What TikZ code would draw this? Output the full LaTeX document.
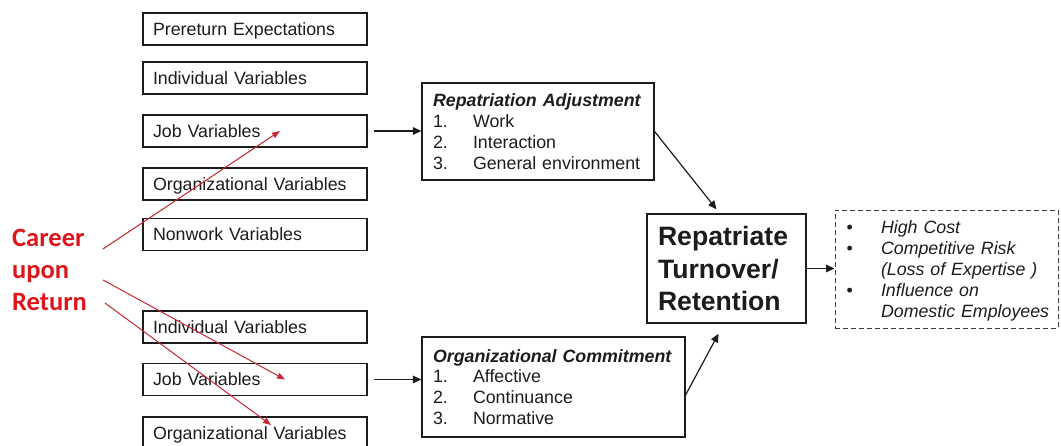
\documentclass[tikz,border=0pt]{standalone}
\usepackage{fontspec}
\setmainfont{Liberation Sans}
\newfontfamily\careerfont{Carlito}
\usetikzlibrary{arrows.meta}
\definecolor{careerred}{RGB}{222,22,28}
\definecolor{linkred}{RGB}{196,40,50}
\definecolor{ink}{RGB}{28,28,28}

\begin{document}
\begin{tikzpicture}[x=1pt,y=-1pt,
  every node/.style={text=ink},
  varbox/.style={draw=ink, line width=1.2pt, minimum width=224pt, minimum height=32pt,
    text width=204pt, align=left, inner xsep=10pt, inner ysep=0pt,
    text height=12.7pt, text depth=0pt, font=\fontsize{17.8}{21}\selectfont},
  listbox/.style={draw=ink, line width=1.2pt, align=left, inner xsep=11pt, inner ysep=0pt,
    font=\fontsize{17.8}{20.8}\selectfont},
  bigbox/.style={draw=ink, line width=1.4pt, align=left, inner xsep=11pt, inner ysep=0pt,
    minimum width=159pt, minimum height=109pt, text width=137pt,
    font=\bfseries\fontsize{26.6}{32.5}\selectfont},
  effectbox/.style={draw=ink!85, line width=0.9pt, dash pattern=on 5pt off 3pt, align=left,
    inner xsep=11.5pt, inner ysep=0pt, minimum width=223pt, minimum height=118pt,
    text width=200pt, font=\itshape\fontsize{17.8}{21.2}\selectfont},
  flow/.style={draw=ink, line width=1.2pt, -{Triangle[length=8.5pt,width=7.5pt]}},
  redlink/.style={draw=linkred, line width=1pt, -{Triangle[length=8pt,width=6pt]}}
]
\useasboundingbox (0,0) rectangle (1061,446);

% antecedents of repatriation adjustment
\node[varbox] (pre)  at (255,29)    {Prereturn Expectations};
\node[varbox] (ind1) at (255,78)    {Individual Variables};
\node[varbox] (job1) at (255,131)   {Job Variables};
\node[varbox] (org1) at (255,184)   {Organizational Variables};
\node[varbox] (non)  at (255,234.5) {Nonwork Variables};

% antecedents of organizational commitment
\node[varbox] (ind2) at (255,327)   {Individual Variables};
\node[varbox] (job2) at (255,379.5) {Job Variables};
\node[varbox] (org2) at (255,433)   {Organizational Variables};

% mediating constructs
\node[listbox, minimum width=232pt, minimum height=97pt, text width=210pt] (ra) at (538,131.5)
  {\textbf{\textit{Repatriation Adjustment}}\\
   \makebox[40pt][l]{1.}Work\\
   \makebox[40pt][l]{2.}Interaction\\
   \makebox[40pt][l]{3.}General environment};
\node[listbox, minimum width=263pt, minimum height=100pt, text width=241pt] (oc) at (553.5,387)
  {\mbox{\textbf{\textit{Organizational Commitment}}}\\
   \makebox[40pt][l]{1.}Affective\\
   \makebox[40pt][l]{2.}Continuance\\
   \makebox[40pt][l]{3.}Normative};

% outcome and its consequences
\node[bigbox] (rt) at (726.5,268.5) {Repatriate\\Turnover/\\Retention};
\node[effectbox] (cons) at (946.5,269)
  {\mbox{\rule{0pt}{16.5pt}\makebox[34.5pt][l]{\upshape•}High Cost}\\
   \mbox{\makebox[34.5pt][l]{\upshape•}Competitive Risk}\\
   \mbox{\hspace*{34.5pt}(Loss of Expertise )}\\
   \mbox{\makebox[34.5pt][l]{\upshape•}Influence on}\\
   \mbox{\hspace*{34.5pt}Domestic Employees}};

% career upon return
\node[anchor=west, align=left, inner sep=0pt, text=careerred,
  font=\careerfont\bfseries\fontsize{26.5}{32}\selectfont] (career) at (12,270)
  {Career\\upon\\Return};
\coordinate (c1) at (103,249);
\coordinate (c2) at (103,280);
\coordinate (c3) at (105,303);

% black flow arrows
\draw[flow] ([xshift=6pt]job1.east) -- (ra.west |- job1.east);
\draw[flow] ([xshift=6pt]job2.east) -- (oc.west |- job2.east);
\draw[flow] (ra.east) -- ([xshift=-10pt,yshift=4pt]rt.north);
\draw[flow] ([yshift=-8pt]oc.east) -- ([xshift=-8pt,yshift=-10pt]rt.south);
\draw[flow] (rt.east) -- (cons.west |- rt.east);

% red links from career upon return
\draw[redlink] (c1) -- ([xshift=25pt]job1.center);
\draw[redlink] (c2) -- ([xshift=30pt]job2.center);
\draw[redlink] (c3) -- ([xshift=16pt,yshift=8pt]org2.center);
\end{tikzpicture}
\end{document}
